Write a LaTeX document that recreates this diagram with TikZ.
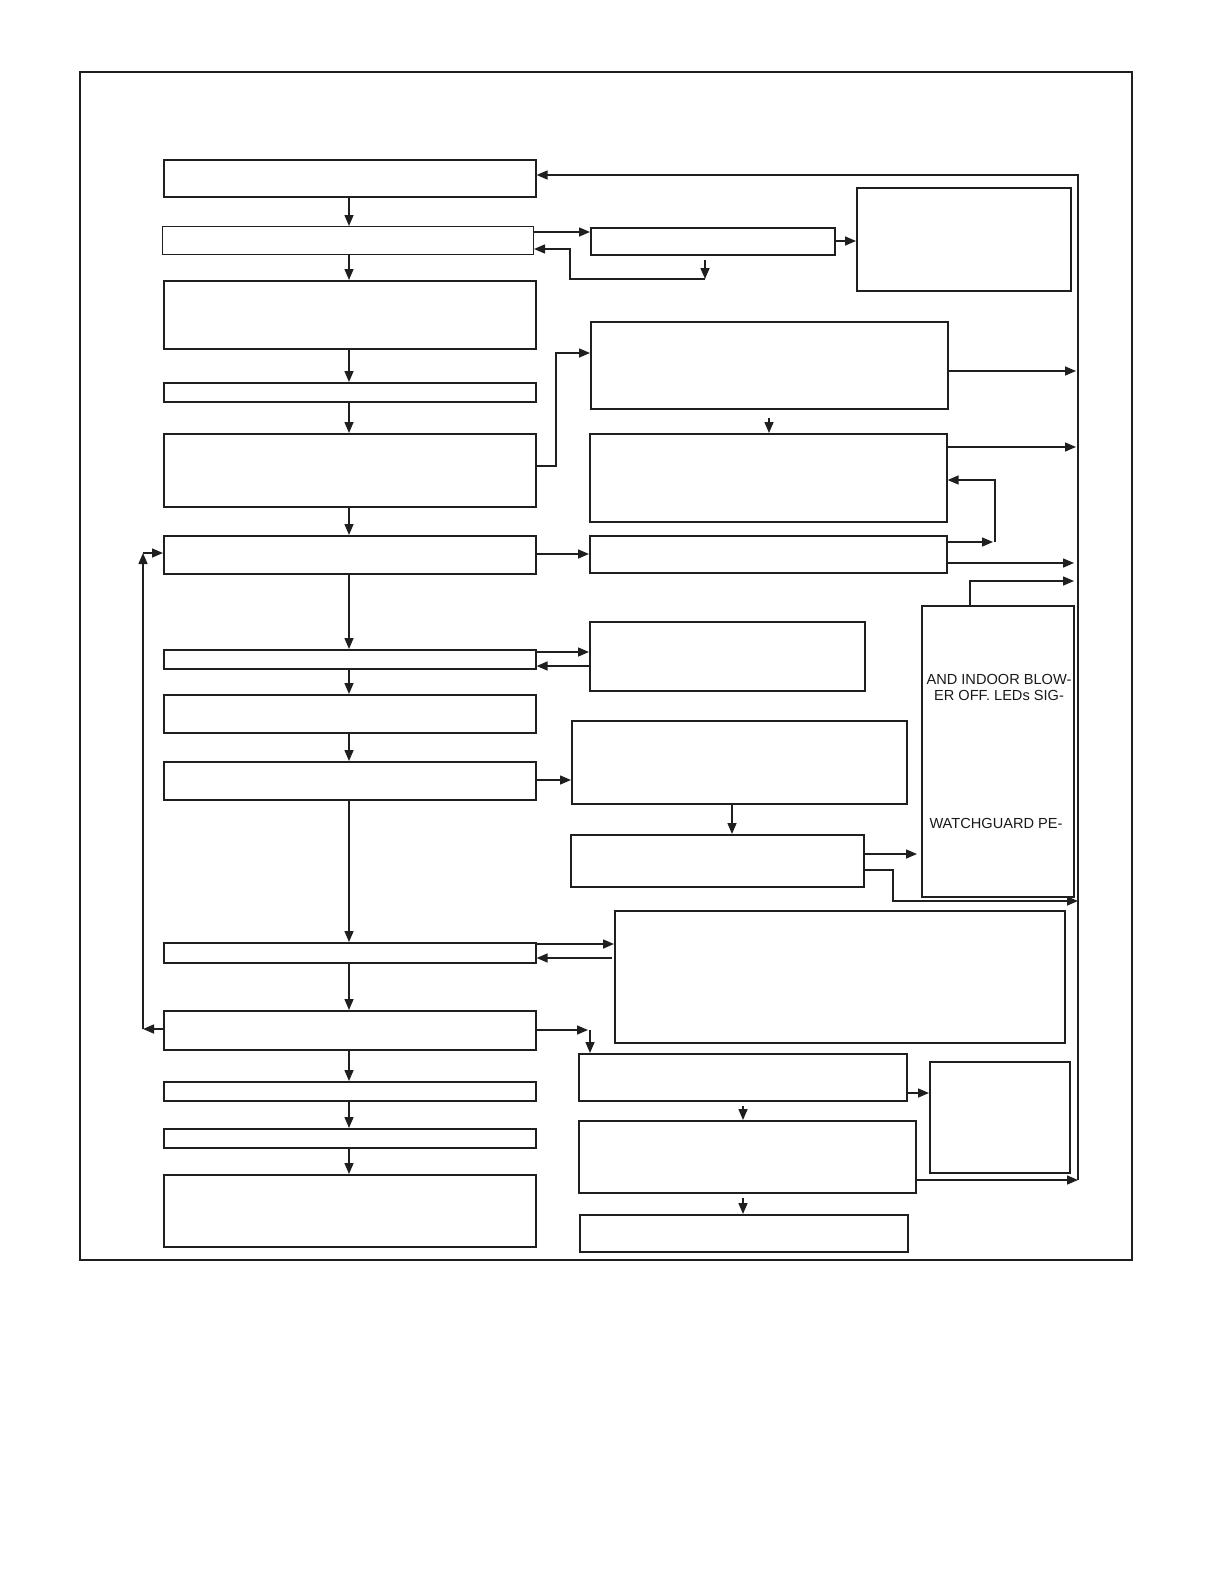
\documentclass[tikz,border=0pt]{standalone}
\usepackage{fontspec}
\setmainfont{Liberation Sans}
\usetikzlibrary{arrows.meta}
\begin{document}
\begin{tikzpicture}[x=0.5pt,y=-0.5pt,
 box/.style={draw=black!88, line width=0.8pt, inner sep=0pt, anchor=north west},
 thinbox/.style={box, line width=0.5pt},
 arr/.style={draw=black!88, line width=0.75pt, -{Triangle[length=5.5pt,width=4.5pt]}},
 lbl/.style={font=\fontsize{7.3}{8}\selectfont, inner sep=0pt, text=black!90}]
\useasboundingbox (0,0) rectangle (1224,1584);
\draw[line width=0.8pt, black!88] (80,72) rectangle (1132,1260);
\newcommand\bx[6][box]{\node[#1, minimum width={(#5-#3)*0.5pt}, minimum height={(#6-#4)*0.5pt}] (#2) at (#3,#4) {};}
% left column
\bx{L1}{163}{159}{535}{196}
\bx[thinbox]{L2}{162}{226}{533}{254}
\bx{L3}{163}{280}{535}{348}
\bx{L4}{163}{382}{535}{401}
\bx{L5}{163}{433}{535}{506}
\bx{L6}{163}{535}{535}{573}
\bx{L7}{163}{649}{535}{668}
\bx{L8}{163}{694}{535}{732}
\bx{L9}{163}{761}{535}{799}
\bx{L10}{163}{942}{535}{962}
\bx{L11}{163}{1010}{535}{1049}
\bx{L12}{163}{1081}{535}{1100}
\bx{L13}{163}{1128}{535}{1147}
\bx{L14}{163}{1174}{535}{1246}
% right side
\bx{R1}{590}{227}{834}{254}
\bx{R2}{856}{187}{1070}{290}
\bx{R3}{590}{321}{947}{408}
\bx{R4}{589}{433}{946}{521}
\bx{R5}{589}{535}{946}{572}
\bx{R6}{921}{605}{1073}{896}
\bx{R7}{589}{621}{864}{690}
\bx{R8}{571}{720}{906}{803}
\bx{R9}{570}{834}{863}{886}
\bx{R10}{614}{910}{1064}{1042}
\bx{R11}{578}{1053}{906}{1100}
\bx{R12}{929}{1061}{1069}{1172}
\bx{R13}{578}{1120}{915}{1192}
\bx{R14}{579}{1214}{907}{1251}
% texts
\node[lbl] (t1) at (999,679) {AND INDOOR BLOW-};
\node[lbl] (t2) at (999,695) {ER OFF. LEDs SIG-};
\node[lbl] (t3) at (996,823) {WATCHGUARD PE-};
% left column arrows
\coordinate (cx) at (349,0);
\foreach \a/\b in {L1/L2,L2/L3,L3/L4,L4/L5,L5/L6,L6/L7,L7/L8,L8/L9,L9/L10,L10/L11,L11/L12,L12/L13,L13/L14}
  \draw[arr] (\a.south-|cx) -- (\b.north-|cx);
% coordinates
\coordinate (rt) at (1078,175);
\coordinate (rb) at (1078,1180);
\coordinate (c1) at (705,279);
\coordinate (c2) at (995,542);
\coordinate (c3) at (590,1030);
\coordinate (c4) at (143,1029);
\coordinate (c5) at (143,553);
\coordinate (c6) at (1076,371);
\coordinate (c7) at (1076,447);
\coordinate (c8) at (1074,563);
\coordinate (c9) at (1074,581);
\coordinate (c10) at (1078,901);
% right trunk
\draw[arr] (rb) -- (rt) -- (L1.east|-rt);
% top group
\draw[arr] (L2.east|-0,232) -- (R1.west|-0,232);
\draw[arr, shorten <=2pt] (R1.south-|c1) -- (c1);
\draw[arr] (c1) -- (570,279) -- (570,249) -- (L2.east|-0,249);
\draw[arr] (R1.east|-0,241) -- (R2.west|-0,241);
% R3 / R4 / R5
\draw[arr] (L5.east|-0,466) -- (556,466) -- (556,353) -- (R3.west|-0,353);
\draw[arr] (R3.east|-c6) -- (c6);
\draw[arr, shorten <=4pt] (R3.south-|769,0) -- (R4.north-|769,0);
\draw[arr] (R4.east|-c7) -- (c7);
\draw[arr] (L6.east|-0,554) -- (R5.west|-0,554);
\draw[arr, shorten >=1pt] (R5.east|-c2) -- (c2);
\draw[arr] (c2) -- (995,480) -- (R4.east|-0,480);
\draw[arr] (R5.east|-c8) -- (c8);
\draw[arr] (R6.north-|970,0) -- (970,581) -- (c9);
% R7, R8, R9
\draw[arr] (L7.east|-0,652) -- (R7.west|-0,652);
\draw[arr] (R7.west|-0,666) -- (L7.east|-0,666);
\draw[arr] (L9.east|-0,780) -- (R8.west|-0,780);
\draw[arr] (R8.south-|732,0) -- (R9.north-|732,0);
\draw[arr, shorten >=2pt] (R9.east|-0,854) -- (R6.west|-0,854);
\draw[arr] (R9.east|-0,870) -- (893,870) -- (893,901) -- (c10);
% R10
\draw[arr] (L10.east|-0,944) -- (R10.west|-0,944);
\draw[arr] (612,958) -- (L10.east|-0,958);
% R11 .. R14
\draw[arr, shorten >=1pt] (L11.east|-c3) -- (c3);
\draw[arr] (c3) -- (R11.north-|c3);
\draw[arr] (R11.east|-0,1093) -- (R12.west|-0,1093);
\draw[arr, shorten <=2pt] (R11.south-|743,0) -- (R13.north-|743,0);
\draw[arr] (R13.east|-rb) -- (rb);
\draw[arr, shorten <=2pt] (R13.south-|743,0) -- (R14.north-|743,0);
% left loop
\draw[arr] (L11.west|-c4) -- (c4);
\draw[arr] (c4) -- (c5);
\draw[arr] (c5) -- (L6.west|-c5);
\end{tikzpicture}
\end{document}
